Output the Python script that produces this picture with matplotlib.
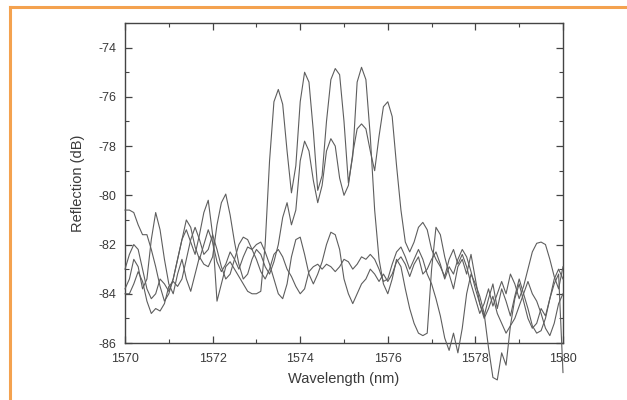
import numpy as np
import matplotlib.pyplot as plt
from matplotlib.lines import Line2D

plt.rcParams['font.family'] = ['Liberation Sans', 'DejaVu Sans']
plt.rcParams['axes.unicode_minus'] = False

# wavelength grid (nm), 0.1 nm steps
wavelength = np.round(np.arange(1570.0, 1580.01, 0.1), 1)

# four reflection spectra (dB)
refl_a = [
    -83.0, -82.4, -82.0, -82.2, -83.0, -83.8, -84.2, -84.0, -83.4, -83.6,
    -83.9, -83.4, -82.6, -81.8, -81.4, -81.9, -82.4, -81.6, -80.7, -80.2,
    -81.6, -84.3, -83.6, -82.9, -82.7, -83.0, -83.3, -83.6, -83.9, -84.0,
    -84.0, -83.9, -82.0, -78.6, -76.2, -75.7, -76.3, -78.2, -79.9, -78.8,
    -76.2, -75.0, -75.4, -77.4, -79.8, -79.2, -77.0, -75.3, -74.85, -75.1,
    -77.0, -79.5, -78.4, -75.4, -74.8, -75.3, -77.6, -80.6, -82.6, -83.6,
    -84.0, -83.4, -82.6, -82.9, -83.8, -84.6, -85.2, -85.6, -85.7, -85.6,
    -83.0, -81.3, -81.6, -82.5, -83.2, -83.8, -82.9, -82.6, -83.2, -82.4,
    -83.4, -84.4, -84.9, -84.2, -83.6, -84.6, -83.8, -84.3, -84.9, -84.1,
    -83.4, -84.0, -84.6, -85.3, -85.6, -85.5, -85.0, -84.2, -83.4, -83.0,
    -83.4,
]
refl_b = [
    -83.8, -83.4, -82.6, -82.9, -83.8, -83.4, -81.8, -80.7, -81.4, -82.6,
    -83.6, -84.0, -83.2, -82.6, -83.4, -83.9, -83.2, -82.5, -82.8, -82.9,
    -82.5, -81.2, -80.3, -79.95, -80.8, -81.9, -82.8, -83.4, -83.2, -82.6,
    -82.2, -82.4, -82.9, -83.2, -82.7, -82.0, -80.9, -80.3, -81.2, -80.6,
    -78.6, -77.8, -78.2, -79.4, -80.3, -79.6, -78.2, -77.7, -78.0, -79.3,
    -80.0, -79.6, -78.3, -77.3, -77.1, -77.3, -78.2, -79.0, -77.6, -76.4,
    -76.2, -76.8, -78.8, -80.6, -81.9, -82.3, -81.9, -81.3, -81.1, -81.4,
    -82.2, -82.6, -82.9, -83.3, -82.6, -82.2, -82.8, -82.4, -82.9, -83.6,
    -84.2, -84.8, -84.4, -83.8, -84.5, -84.0, -83.5, -84.0, -83.2, -83.6,
    -84.2, -83.7, -83.0, -82.3, -81.95, -81.9, -82.0, -82.6, -83.3, -83.8,
    -82.9,
]
refl_c = [
    -80.6, -80.6, -80.7, -81.2, -81.6, -81.6, -82.2, -82.9, -83.7, -84.3,
    -84.0, -83.4, -82.6, -81.8, -81.0, -81.3, -82.1, -82.6, -82.0, -81.4,
    -81.9, -82.7, -83.1, -82.8, -82.3, -82.6, -83.0, -82.5, -82.1, -82.2,
    -82.6, -83.1, -83.4, -83.0, -82.4, -82.2, -82.5, -83.0, -83.3, -83.7,
    -84.0, -83.8, -83.1, -82.9, -82.8, -83.0, -82.8, -82.9, -83.1, -82.9,
    -82.6, -82.7, -83.0, -82.8, -82.5, -82.6, -82.4, -82.6, -83.0, -83.5,
    -83.4, -82.8, -82.3, -82.1, -82.5, -83.0, -82.6, -82.2, -82.6, -83.2,
    -83.6, -84.2, -84.9, -85.8, -86.3, -85.6, -86.4, -85.4, -84.0, -83.2,
    -83.6, -84.1, -84.8, -86.2, -87.4, -87.5, -86.4, -86.9, -85.3, -84.2,
    -83.6, -84.3, -85.0, -85.4, -85.2, -84.6, -84.9, -84.2, -83.6, -83.2,
    -87.2,
]
refl_d = [
    -84.0, -84.0, -83.6, -83.1, -83.5, -84.3, -84.8, -84.6, -84.7, -84.4,
    -83.7, -83.5, -83.7, -83.4, -82.6, -81.8, -81.3, -81.8, -82.4, -82.2,
    -81.6, -82.2, -82.9, -83.4, -83.2, -82.6, -82.0, -81.7, -81.8, -82.2,
    -82.0, -81.9, -82.3, -82.8, -83.4, -84.0, -84.2, -83.6, -82.5, -81.8,
    -81.7, -82.4, -83.2, -83.6, -83.2, -82.7, -82.0, -81.5, -81.6, -82.2,
    -83.4, -84.0, -84.4, -84.0, -83.6, -83.4, -83.0, -83.2, -83.5, -83.2,
    -83.5, -83.2, -82.7, -82.5, -82.8, -83.3, -82.8, -82.5, -83.2, -83.0,
    -82.6, -82.3, -82.8, -83.4, -82.9, -83.2, -82.6, -82.2, -82.5, -83.1,
    -83.8, -84.4, -85.0, -84.6, -84.1, -84.8, -85.2, -85.6, -85.3, -85.0,
    -84.5, -84.0, -83.5, -84.0, -84.3, -84.8, -85.4, -85.7, -85.2, -84.4,
    -84.0,
]

fig = plt.figure(figsize=(6.27, 4.0), dpi=100)
ax = fig.add_axes([0.1994, 0.1425, 0.6985, 0.80])

for r in (refl_a, refl_b, refl_c, refl_d):
    ax.plot(wavelength, r, color='#5e5e5e', linewidth=0.8, clip_on=False, zorder=3)

ax.set_xlim(1570, 1580)
ax.set_ylim(-86, -73)
ax.set_xticks(np.arange(1570, 1581, 2))
ax.set_xticks(np.arange(1570, 1581, 1), minor=True)
ax.set_yticks(np.arange(-86, -73, 2))
ax.set_yticks(np.arange(-86, -72, 1), minor=True)

ax.tick_params(which='both', direction='in', top=True, right=True,
               color='#444444', labelcolor='#3a3a3a', labelsize=9)
ax.tick_params(which='major', length=5, width=0.9)
ax.tick_params(which='minor', length=3, width=0.8)
ax.tick_params(axis='x', pad=7)
ax.tick_params(axis='y', pad=6)
for s in ax.spines.values():
    s.set_color('#444444')
    s.set_linewidth(1.0)

ax.set_xlabel('Wavelength (nm)', fontsize=10.5, color='#3a3a3a', labelpad=5)
ax.set_ylabel('Reflection (dB)', fontsize=10.5, color='#3a3a3a', labelpad=10)

# orange frame of the scanned page
frame = '#f4a24f'
fig.add_artist(Line2D([10/627, 1.0], [1 - 7/400, 1 - 7/400], color=frame, linewidth=2.2))
fig.add_artist(Line2D([10/627, 10/627], [0.0, 1 - 7/400], color=frame, linewidth=2.2))

fig.savefig('out.png', dpi=100)
